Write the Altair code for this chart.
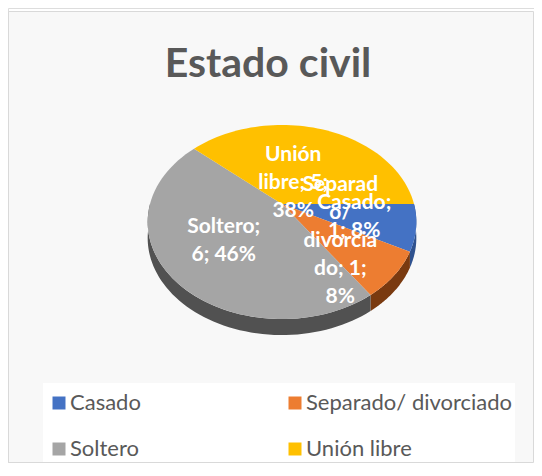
import altair as alt
import pandas as pd

# ---- data ----
title_text = "Estado civil"
categories = ["Casado", "Separado/ divorciado", "Soltero", "Unión libre"]
values = [1, 1, 6, 5]
total = sum(values)
pcts = [round(100 * v / total) for v in values]
labels = [
    f"Casado;\n{values[0]}; {pcts[0]}%",
    f"Separad\no/\ndivorcia\ndo; {values[1]};\n{pcts[1]}%",
    f"Soltero;\n{values[2]}; {pcts[2]}%",
    f"Unión\nlibre; {values[3]};\n{pcts[3]}%",
]
legend_order = ["Casado", "Soltero", "Separado/ divorciado", "Unión libre"]

# ---- styles ----
colors = ["#4472C4", "#ED7D31", "#A5A5A5", "#FFC000"]
side_colors = ["#2F528F", "#7A3A10", "#515151", "#BF9000"]
FONT = "Lato"
W, H = 526, 455
CX, CY = 282, 204          # projected pie centre (page px)
K, M, P = 132, 93.7, 0.1856  # perspective projection of the pie disc
DEPTH = 16
START = 90
N = 60
LH = 28

xs = alt.Scale(domain=[8, 8 + W], nice=False, zero=False)
ys = alt.Scale(domain=[8, 8 + H], reverse=True, nice=False, zero=False)


def base(steps=None):
    d = {"cat": categories, "value": values, "idx": list(range(len(values))), "label": labels}
    df = pd.DataFrame(d)
    if steps is not None:
        df["step"] = [steps] * len(df)
    return (
        alt.Chart(df)
        .transform_joinaggregate(total="sum(value)")
        .transform_window(cum="sum(value)", sort=[alt.SortField("idx")], frame=[None, 0])
        .transform_calculate(a0=f"{START} + 360*(datum.cum - datum.value)/datum.total")
        .transform_calculate(a1=f"{START} + 360*datum.cum/datum.total")
    )


def project(ch, extra_dy="0"):
    return (
        ch.transform_calculate(den=f"1 + {P}*datum.v")
        .transform_calculate(px=f"{CX} + {K}*datum.u/datum.den")
        .transform_calculate(py=f"{CY} - {M}*datum.v/datum.den + ({extra_dy})")
    )


# top faces
top = base(list(range(-1, N + 1))).transform_flatten(["step"])
top = top.transform_calculate(t=f"(datum.a0 + (datum.a1 - datum.a0)*max(datum.step,0)/{N})*PI/180")
top = top.transform_calculate(r="datum.step < 0 ? 0 : 1")
top = top.transform_calculate(u="datum.r*sin(datum.t)")
top = top.transform_calculate(v="datum.r*cos(datum.t)")
top = project(top).mark_line(filled=True, opacity=1, strokeWidth=0).encode(
    x=alt.X("px:Q", scale=xs, axis=None),
    y=alt.Y("py:Q", scale=ys, axis=None),
    order="step:Q",
    color=alt.Color(
        "cat:N",
        scale=alt.Scale(domain=categories, range=colors),
        legend=alt.Legend(
            title=None, orient="none", legendX=40, legendY=384, columns=2,
            values=legend_order,
            symbolType="square", symbolSize=169, symbolStrokeWidth=0,
            labelFont=FONT, labelFontSize=22, labelColor="#595959",
            labelOffset=0, labelLimit=0, columnPadding=7, rowPadding=24,
            gridAlign="all", padding=0,
        ),
    ),
)

# sides (front half only)
side = base(list(range(0, 2 * N + 2))).transform_calculate(
    s0="max(datum.a0, 90)").transform_calculate(s1="min(datum.a1, 270)").transform_filter(
    "datum.s1 > datum.s0").transform_flatten(["step"])
side = side.transform_calculate(
    t=f"(datum.step <= {N} ? datum.s0 + (datum.s1-datum.s0)*datum.step/{N} : datum.s1 - (datum.s1-datum.s0)*(datum.step-{N}-1)/{N})*PI/180")
side = side.transform_calculate(u="sin(datum.t)").transform_calculate(v="cos(datum.t)")
side = side.transform_calculate(dy=f"datum.step <= {N} ? 0 : {DEPTH}")
side = project(side, "datum.dy").mark_line(filled=True, opacity=1, strokeWidth=0).encode(
    x=alt.X("px:Q", scale=xs, axis=None),
    y=alt.Y("py:Q", scale=ys, axis=None),
    order="step:Q",
    color=alt.Color("cat:N", scale=alt.Scale(domain=categories, range=side_colors), legend=None),
)

# data labels (multi-line blocks centred on the anchor)
lab = base().transform_calculate(tm=f"({START} + 360*(datum.cum - datum.value/2)/datum.total)*PI/180")
lab = lab.transform_calculate(f="datum.cat == 'Unión libre' ? 0.25 : 0.55")
lab = lab.transform_calculate(u="datum.f*sin(datum.tm)").transform_calculate(v="datum.f*cos(datum.tm)")
lab = lab.transform_calculate(nl="length(split(datum.label, '\\n'))")
lab = lab.transform_calculate(shift=f"-(datum.nl - 1)*{LH}/2")
lab = project(lab, "datum.shift").mark_text(
    font=FONT, fontSize=21, fontWeight="bold", color="white", lineBreak="\n",
    lineHeight=LH, align="center", baseline="middle",
).encode(
    x=alt.X("px:Q", scale=xs, axis=None),
    y=alt.Y("py:Q", scale=ys, axis=None),
    text="label:N",
)

one = pd.DataFrame({"t": [title_text]})
frame = alt.Chart(one).mark_rect(fill="#F8F8F8", stroke="#D9D9D9", strokeWidth=1).encode(
    x=alt.value(0.5), x2=alt.value(W - 0.5), y=alt.value(3.5), y2=alt.value(H - 0.5))
legbox = alt.Chart(one).mark_rect(fill="#FFFFFF").encode(
    x=alt.value(35), x2=alt.value(507), y=alt.value(375), y2=alt.value(H - 1))
title = alt.Chart(one).mark_text(
    font=FONT, fontSize=41, fontWeight="bold", color="#595959", align="center", baseline="alphabetic"
).encode(text="t:N", x=alt.value(260), y=alt.value(69))

chart = (
    alt.layer(frame, legbox, side, top, lab, title)
    .resolve_scale(color="independent")
    .properties(width=W, height=H, autosize=alt.AutoSizeParams(type="none"), padding=0)
    .configure_view(stroke=None)
    .configure(background="white")
)

chart.save("out.html", embed_options={"renderer": "svg", "actions": False})
